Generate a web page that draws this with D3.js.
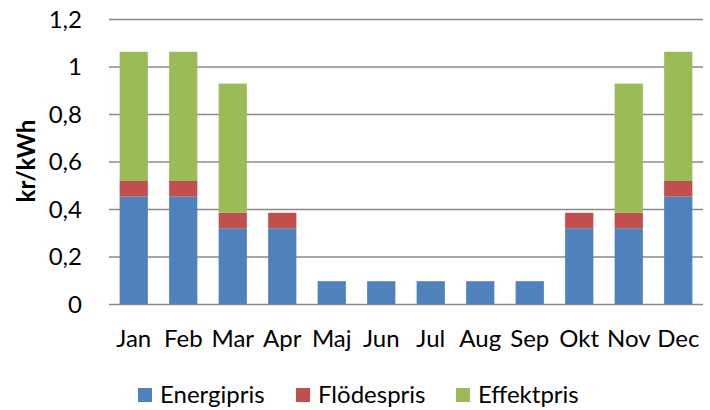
<!DOCTYPE html>
<html>
<head>
<meta charset="utf-8">
<script src="https://cdn.jsdelivr.net/npm/d3@7"></script>
<style>
  body { margin: 0; background: #fff; }
  text { font-family: Lato, "Open Sans", sans-serif; fill: #000; }
</style>
</head>
<body>
<div id="chart"></div>
<script>
var months = ["Jan", "Feb", "Mar", "Apr", "Maj", "Jun", "Jul", "Aug", "Sep", "Okt", "Nov", "Dec"];
var seriesNames = ["Energipris", "Flödespris", "Effektpris"];
var energipris = [0.452, 0.452, 0.319, 0.319, 0.096, 0.096, 0.096, 0.096, 0.096, 0.319, 0.319, 0.452];
var flodespris = [0.066, 0.066, 0.065, 0.065, 0, 0, 0, 0, 0, 0.065, 0.065, 0.066];
var effektpris = [0.544, 0.544, 0.544, 0, 0, 0, 0, 0, 0, 0, 0.544, 0.544];
var yTicks = [0, 0.2, 0.4, 0.6, 0.8, 1, 1.2];
var colors = ["#4F81BD", "#C0504D", "#9BBB59"];

function main() {
    var width = 710, height = 410;
    var left = 109, right = 703, top = 19, bottom = 304;

    var svg = d3.select("#chart").append("svg")
        .attr("width", width)
        .attr("height", height);

    var data = months.map(function (m, i) {
        return { month: m, "Energipris": energipris[i], "Flödespris": flodespris[i], "Effektpris": effektpris[i] };
    });

    var xScale = d3.scaleBand().domain(months).range([left, right]).paddingInner(0.43).paddingOuter(0.215);
    var yScale = d3.scaleLinear().domain([0, 1.2]).range([bottom, top]);
    var color = d3.scaleOrdinal().domain(seriesNames).range(colors);

    // gridlines + y labels
    var yAxis = svg.append("g")
        .attr("transform", "translate(" + left + ",0)")
        .call(d3.axisLeft(yScale).tickValues(yTicks)
            .tickSize(-(right - left))
            .tickPadding(27)
            .tickFormat(function (d) { return String(d).replace(".", ","); }));
    yAxis.select(".domain").remove();
    yAxis.selectAll("line").attr("stroke", "#8a8a8a").attr("stroke-width", 1.4);
    yAxis.selectAll("text").attr("font-size", "24px").attr("dy", "0.35em")
        .style("font-family", "Lato, sans-serif");

    // stacked bars
    var series = d3.stack().keys(seriesNames)(data);
    svg.append("g")
        .selectAll("g")
        .data(series)
        .enter().append("g")
        .attr("fill", function (d) { return color(d.key); })
        .selectAll("rect")
        .data(function (d) { return d.filter(function (p) { return p[1] - p[0] > 0; }); })
        .enter().append("rect")
        .attr("x", function (d) { return xScale(d.data.month); })
        .attr("width", xScale.bandwidth())
        .attr("y", function (d) { return yScale(d[1]); })
        .attr("height", function (d) { return yScale(d[0]) - yScale(d[1]); });

    // x axis labels
    var xAxis = svg.append("g")
        .attr("transform", "translate(0," + bottom + ")")
        .call(d3.axisBottom(xScale).tickSize(0).tickPadding(26));
    xAxis.select(".domain").remove();
    xAxis.selectAll("text").attr("font-size", "24px").style("font-family", "Lato, sans-serif");

    // y title
    svg.append("text")
        .attr("transform", "translate(35,161) rotate(-90)")
        .attr("text-anchor", "middle")
        .attr("font-size", "24px")
        .attr("font-weight", "bold")
        .text("kr/kWh");

    // legend
    var legendX = [138, 296, 456];
    var legend = svg.append("g")
        .selectAll("g")
        .data(seriesNames)
        .enter().append("g")
        .attr("transform", function (d, i) { return "translate(" + legendX[i] + ",388)"; });
    legend.append("rect")
        .attr("width", 14).attr("height", 14)
        .attr("fill", function (d) { return color(d); });
    legend.append("text")
        .attr("x", 22).attr("y", 15)
        .attr("font-size", "24px")
        .text(function (d) { return d; });
}
main();
</script>
</body>
</html>
